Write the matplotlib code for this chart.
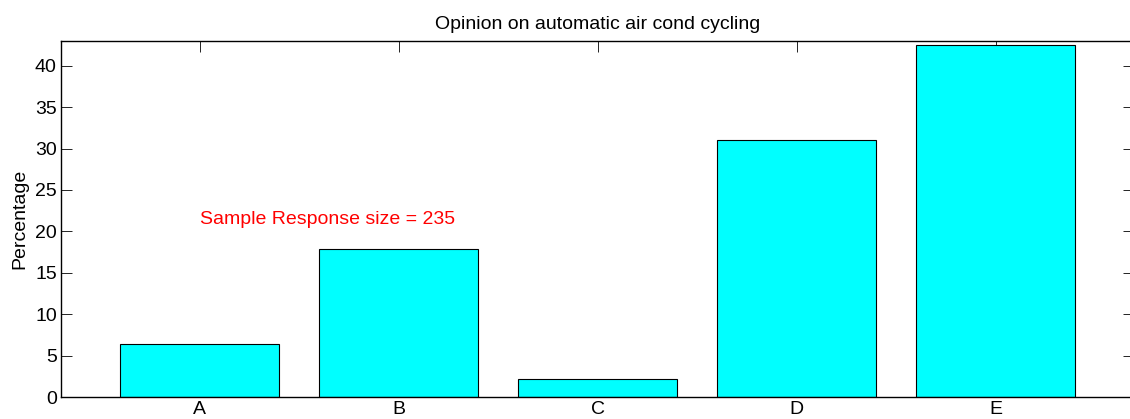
import matplotlib
matplotlib.use("Agg")
import matplotlib.pyplot as plt

categories = ["A", "B", "C", "D", "E"]
percentages = [6.38, 17.87, 2.13, 31.06, 42.55]
yticks = [0, 5, 10, 15, 20, 25, 30, 35, 40]
title = "Opinion on automatic air cond cycling"
ylabel = "Percentage"
note = "Sample Response size = 235"

plt.rcParams['font.family'] = ['Liberation Sans', 'DejaVu Sans']

W, H = 1130, 419
fig = plt.figure(figsize=(W / 100, H / 100), dpi=100)
ax = fig.add_axes([61 / W, (H - 397) / H, (1134 - 61) / W, (397 - 41.3) / H])

x = list(range(1, len(categories) + 1))
ax.bar(x, percentages, width=0.8, color="#00FFFF", edgecolor="black", linewidth=0.8)
ax.set_axisbelow(True)

ax.set_xlim(0.303, 5.695)
ax.set_ylim(0, 42.95)
ax.set_xticks(x)
ax.set_xticklabels(categories)
ax.set_yticks(yticks)

ax.tick_params(direction="in", length=7.7, width=0.6, top=True, right=True,
               labelsize=14, pad=3, colors="black")
ax.tick_params(axis="x", pad=3)
for s in ax.spines.values():
    s.set_linewidth(1.0)
    s.set_color("black")

ax.set_title(title, fontsize=14, pad=9)
ax.set_ylabel(ylabel, fontsize=14, labelpad=5)
ax.text(1.0, 21.4, note, color="red", fontsize=14, ha="left", va="center")

fig.savefig("out.png", dpi=100)
